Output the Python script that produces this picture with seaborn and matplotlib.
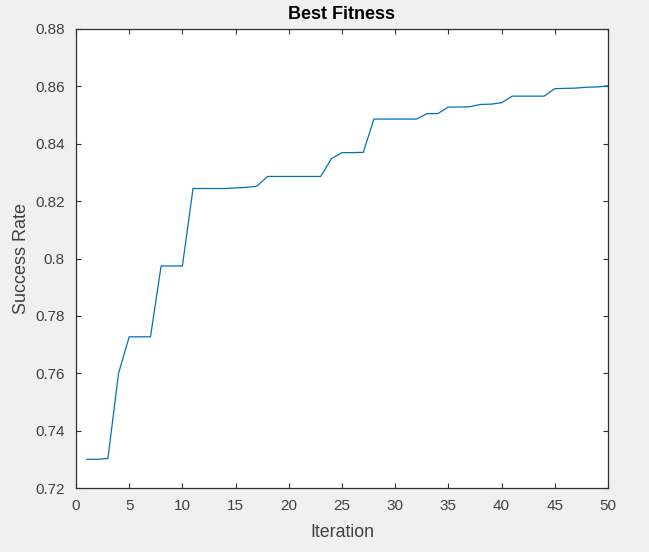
#!/usr/bin/env python3
"""Best fitness curve (success rate per iteration), MATLAB-style figure."""

import matplotlib
matplotlib.use("Agg")
import matplotlib.pyplot as plt
import matplotlib.ticker as mticker
import pandas as pd
import seaborn as sns

ITERATIONS = list(range(1, 51))
SUCCESS_RATE = [
    0.7300, 0.7300, 0.7303, 0.7600, 0.7727, 0.7727, 0.7727, 0.7974, 0.7974, 0.7974,
    0.8244, 0.8244, 0.8244, 0.8244, 0.8246, 0.8248, 0.8252, 0.8286, 0.8286, 0.8286,
    0.8286, 0.8286, 0.8286, 0.8348, 0.8369, 0.8369, 0.8370, 0.8486, 0.8486, 0.8486,
    0.8486, 0.8486, 0.8505, 0.8505, 0.8528, 0.8528, 0.8529, 0.8537, 0.8538, 0.8543,
    0.8566, 0.8566, 0.8566, 0.8566, 0.8592, 0.8593, 0.8594, 0.8597, 0.8598, 0.8602,
]
X_TICKS = list(range(0, 51, 5))
Y_TICKS = [0.72, 0.74, 0.76, 0.78, 0.80, 0.82, 0.84, 0.86, 0.88]

LINE_COLOR = "#0072BD"   # MATLAB default blue
AXIS_COLOR = "#303030"
FIG_BG = "#F0F0F0"


def main() -> None:
    sns.set_style("ticks")
    plt.rcParams["font.family"] = ["Liberation Sans", "DejaVu Sans"]

    df = pd.DataFrame({"iteration": ITERATIONS, "rate": SUCCESS_RATE})

    fig = plt.figure(figsize=(6.49, 5.52), dpi=100, facecolor=FIG_BG)
    ax = fig.add_axes([76 / 649, 64 / 552, 532 / 649, 459 / 552])
    ax.set_facecolor("white")

    sns.lineplot(data=df, x="iteration", y="rate", color=LINE_COLOR,
                 linewidth=0.9, ax=ax)

    ax.set_xlim(0, 50)
    ax.set_ylim(0.72, 0.88)
    ax.set_xticks(X_TICKS)
    ax.set_yticks(Y_TICKS)
    ax.yaxis.set_major_formatter(mticker.FuncFormatter(lambda v, _p: f"{v:g}"))

    for side in ("top", "right", "bottom", "left"):
        ax.spines[side].set_visible(True)
        ax.spines[side].set_color(AXIS_COLOR)
        ax.spines[side].set_linewidth(0.9)
    ax.tick_params(direction="in", length=3.5, width=0.8, color=AXIS_COLOR,
                   labelcolor="#404040", labelsize=11,
                   top=True, right=True, pad=8)

    ax.set_title("Best Fitness", fontweight="bold", fontsize=13,
                 color="black", pad=7)
    ax.set_xlabel("Iteration", fontsize=12.8, color="#404040", labelpad=8)
    ax.set_ylabel("Success Rate", fontsize=13, color="#404040", labelpad=4)

    fig.savefig("out.png", dpi=100, facecolor=FIG_BG)
    plt.close(fig)


if __name__ == "__main__":
    main()
